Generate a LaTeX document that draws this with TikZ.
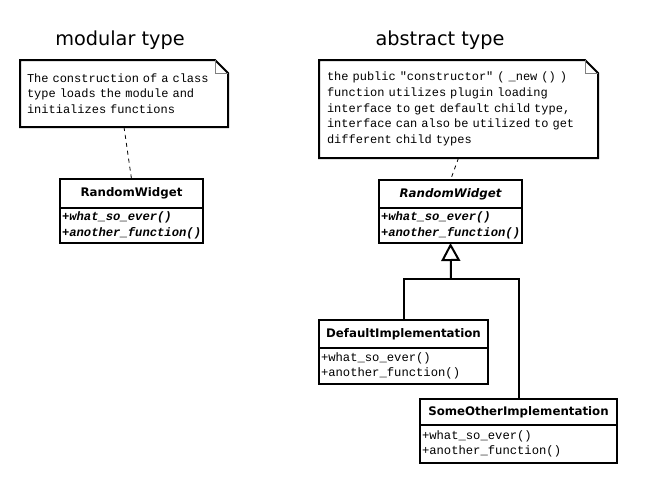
\documentclass[tikz,border=0pt]{standalone}
\usepackage{fontspec}
\newfontfamily\uisans{DejaVu Sans}
\newfontfamily\uimono{Liberation Mono}
\usetikzlibrary{arrows.meta}

\begin{document}
\begin{tikzpicture}[x=1pt, y=-1pt,
  title/.style={font=\uisans\fontsize{19.3}{22}\selectfont, anchor=base, inner sep=0pt},
  notebox/.style={anchor=north west, align=left, inner xsep=7pt, inner ysep=0pt, outer sep=0pt, font=\uimono\fontsize{12}{15.7}\selectfont},
  outline/.style={line width=2pt, line join=miter},
  fold/.style={line width=0.8pt, gray},
  classhead/.style={draw, line width=2pt, anchor=north west, inner sep=0pt, outer sep=0pt, font=\uisans\bfseries\fontsize{11.8}{13}\selectfont},
  classbody/.style={draw, line width=2pt, anchor=north west, inner xsep=2pt, inner ysep=0pt, outer sep=0pt, align=left, font=\uimono\fontsize{12.2}{15.5}\selectfont},
  link/.style={dash pattern=on 4pt off 4pt, line width=0.8pt},
  inherit/.style={line width=2pt}
]
\useasboundingbox (0,0) rectangle (660,480);

% titles
\node[title] (ttlmod) at (120,45) {modular type};
\node[title] (ttlabs) at (440,45) {abstract type};

% notes
\node[notebox, minimum width=208pt, minimum height=67pt, text width=194pt] (notemod) at (20,60)
  {The construction of a class\\type loads the module and\\initializes functions};
\draw[outline] (notemod.north west) -- ([xshift=-13pt]notemod.north east) -- ([yshift=-13pt]notemod.north east)
  -- (notemod.south east) -- (notemod.south west) -- cycle;
\draw[fold] ([xshift=-13pt]notemod.north east) |- ([yshift=-13pt]notemod.north east);

\node[notebox, inner xsep=8pt, minimum width=279pt, minimum height=98pt, text width=263pt] (noteabs) at (319,60)
  {the public "constructor" ( \_new () )\\function utilizes plugin loading\\interface to get default child type,\\interface can also be utilized to get\\different child types};
\draw[outline] (noteabs.north west) -- ([xshift=-13pt]noteabs.north east) -- ([yshift=-13pt]noteabs.north east)
  -- (noteabs.south east) -- (noteabs.south west) -- cycle;
\draw[fold] ([xshift=-13pt]noteabs.north east) |- ([yshift=-13pt]noteabs.north east);

% modular class
\node[classhead, minimum width=143pt, minimum height=29pt] (rwmod) at (60,179) {RandomWidget};
\node[classbody, minimum width=143pt, minimum height=35pt, text width=139pt] (rwmodops) at (rwmod.south west)
  {\bfseries\itshape +what\_so\_ever()\\\bfseries\itshape +another\_function()};

% abstract class
\node[classhead, minimum width=143pt, minimum height=28pt, font=\uisans\bfseries\itshape\fontsize{11.8}{13}\selectfont] (rwabs) at (379,180) {RandomWidget};
\node[classbody, minimum width=143pt, minimum height=35pt, text width=139pt] (rwabsops) at (rwabs.south west)
  {\bfseries\itshape +what\_so\_ever()\\\bfseries\itshape +another\_function()};

% child classes
\node[classhead, minimum width=169pt, minimum height=28pt] (defimpl) at (319,320) {DefaultImplementation};
\node[classbody, minimum width=169pt, minimum height=36pt, text width=165pt] (defimplops) at (defimpl.south west)
  {+what\_so\_ever()\\+another\_function()};

\node[classhead, minimum width=197pt, minimum height=26pt] (otherimpl) at (420,399) {SomeOtherImplementation};
\node[classbody, minimum width=197pt, minimum height=38pt, text width=193pt] (otherimplops) at (otherimpl.south west)
  {+what\_so\_ever()\\+another\_function()};

% note links
\draw[link] (notemod.south) -- (rwmod.north);
\draw[link] (noteabs.south) -- (rwabs.north);

% inheritance
\coordinate (join) at (451,279);
\draw[inherit] (defimpl.north) |- (join) -| (otherimpl.north);
\draw[inherit, -{Triangle[open, length=18pt, width=19pt, fill=white]}] (join) -- (rwabsops.south);
\end{tikzpicture}
\end{document}
